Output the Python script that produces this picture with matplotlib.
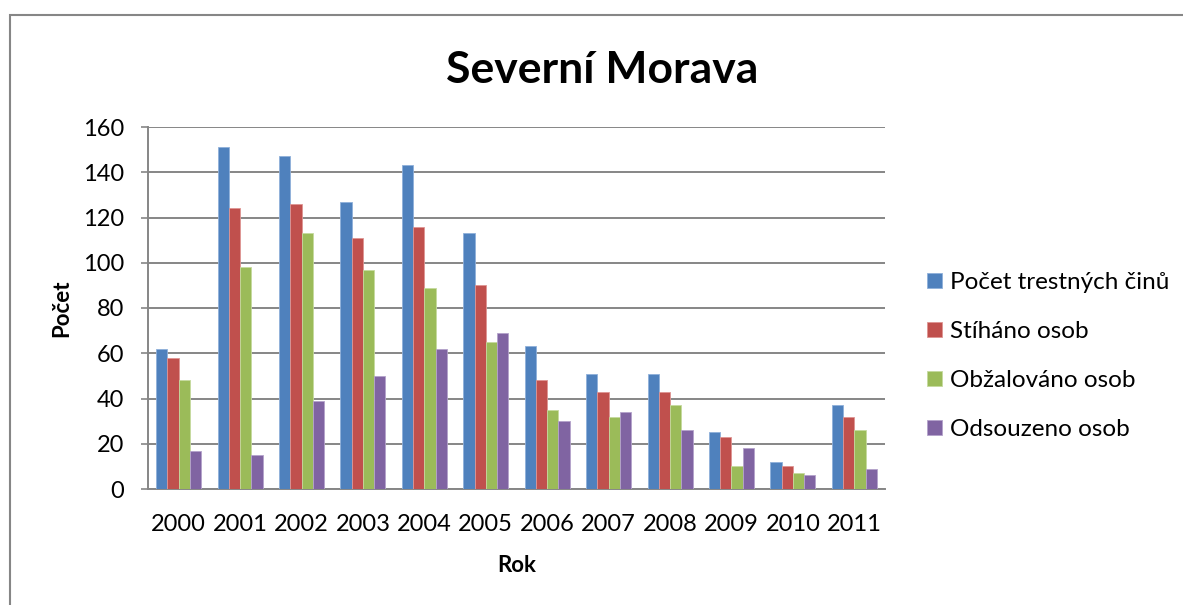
#!/usr/bin/env python3
"""
Severní Morava - sloupcový graf
"""

import numpy as np
import matplotlib
matplotlib.use('Agg')
import matplotlib.pyplot as plt
from matplotlib.patches import Rectangle

plt.rcParams['font.family'] = ['Lato', 'DejaVu Sans']

# data
roky = ['2000', '2001', '2002', '2003', '2004', '2005',
        '2006', '2007', '2008', '2009', '2010', '2011']
trestne_ciny = [62, 151, 147, 127, 143, 113, 63, 51, 51, 25, 12, 37]
stihano = [58, 124, 126, 111, 116, 90, 48, 43, 43, 23, 10, 32]
obzalovano = [48, 98, 113, 97, 89, 65, 35, 32, 37, 10, 7, 26]
odsouzeno = [17, 15, 39, 50, 62, 69, 30, 34, 26, 18, 6, 9]
serie_nazvy = ['Počet trestných činů', 'Stíháno osob', 'Obžalováno osob', 'Odsouzeno osob']
y_ticks = [0, 20, 40, 60, 80, 100, 120, 140, 160]

barvy = ['#4F81BD', '#C0504D', '#9BBB59', '#8064A2']
okraje = ['#8FB0DA', '#DE9593', '#C5DA9E', '#B4A2CB']

W, H = 1183, 605
fig = plt.figure(figsize=(W / 100, H / 100), dpi=100)

# ramecek grafu
fig.add_artist(Rectangle((10 / W, -0.1), 1.2, (H - 15) / H + 0.1,
                         transform=fig.transFigure, fill=False,
                         edgecolor='#868686', linewidth=1.5))

ax = fig.add_axes([148 / W, (H - 489) / H, (885 - 148) / W, (489 - 127) / H])

x = np.arange(len(roky))
w = 0.183
for i, (hodnoty, nazev) in enumerate(zip([trestne_ciny, stihano, obzalovano, odsouzeno], serie_nazvy)):
    ax.bar(x + (i - 1.5) * w, hodnoty, width=w, color=barvy[i],
           edgecolor=okraje[i], linewidth=0.6, label=nazev, zorder=3)

ax.set_xlim(-0.5, len(roky) - 0.5)
ax.set_ylim(0, 160)
ax.set_yticks(y_ticks)
ax.set_xticks(x)
ax.set_xticklabels(roky)
ax.tick_params(axis='y', length=5, width=1.2, color='#868686', pad=12, labelsize=17)
ax.tick_params(axis='x', length=0, pad=18, labelsize=17)
ax.grid(axis='y', color='#868686', linewidth=1.4, zorder=0)
ax.set_axisbelow(True)
for s in ['top', 'right']:
    ax.spines[s].set_visible(False)
for s in ['left', 'bottom']:
    ax.spines[s].set_color('#868686')
    ax.spines[s].set_linewidth(1.4)

fig.text(602 / W, 1 - 70 / H, 'Severní Morava', ha='center', va='center',
         fontsize=32, fontweight='bold')
fig.text(62 / W, 1 - 308 / H, 'Počet', ha='center', va='center',
         rotation=90, fontsize=16, fontweight='bold')
fig.text(517 / W, 1 - 565 / H, 'Rok', ha='center', va='center',
         fontsize=16, fontweight='bold')

ax.legend(loc='center left', bbox_to_anchor=(927 / W, 1 - 356 / H),
          bbox_transform=fig.transFigure, frameon=False, fontsize=17.5,
          handlelength=0.6, handleheight=0.6, handletextpad=0.35,
          labelspacing=1.15, borderpad=0, borderaxespad=0)

plt.savefig('out.png', dpi=100)
